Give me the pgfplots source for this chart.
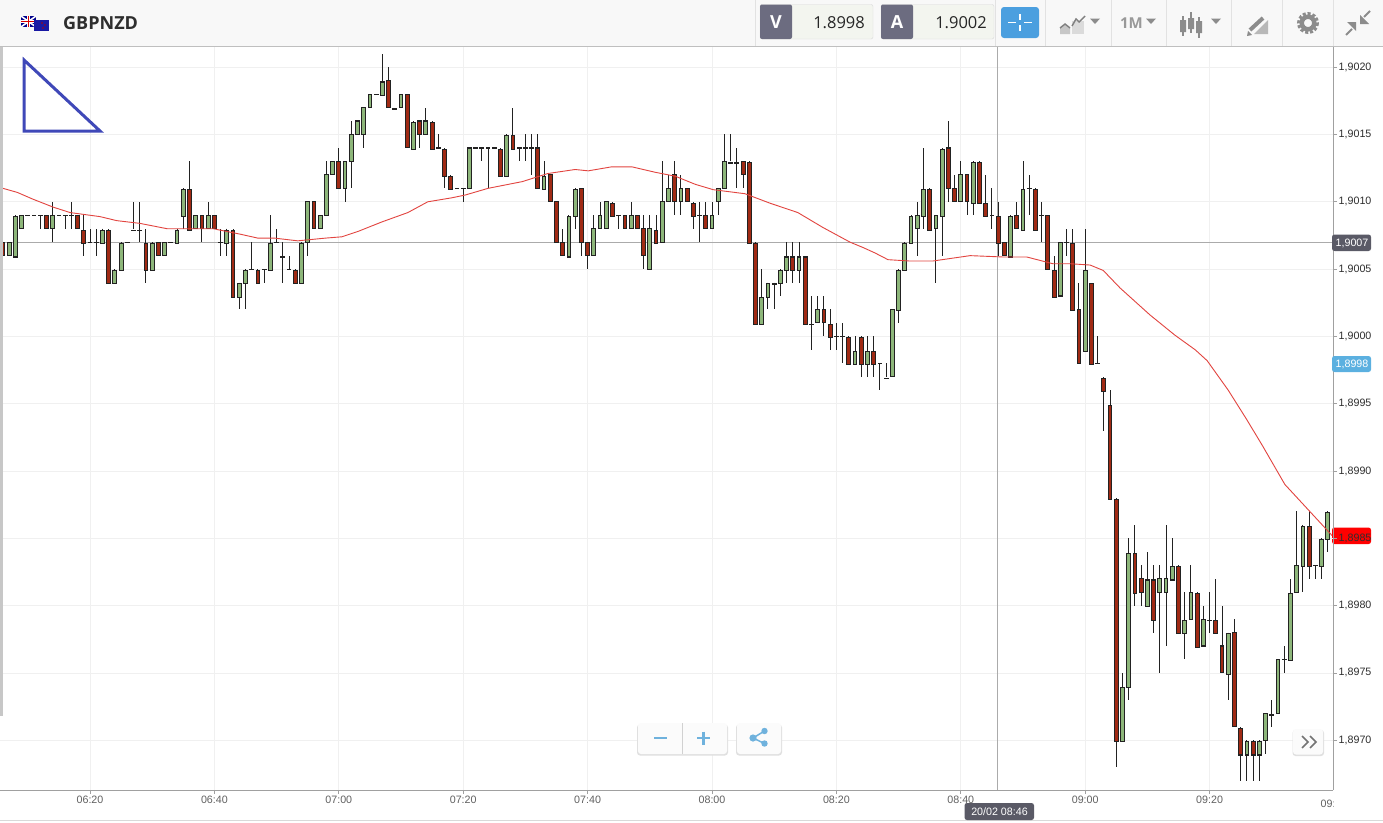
\documentclass[border=0pt]{standalone}
\usepackage{pgfplots}
\usepackage{pgfplotstable}
\usepackage{fontspec}
\pgfplotsset{compat=1.18}
\setmainfont{Liberation Sans}
\newfontfamily\opensans{Open Sans}
\definecolor{cgreen}{HTML}{8DB67A}
\definecolor{cred}{HTML}{A02A14}
\definecolor{cwick}{HTML}{222222}
\definecolor{cgrid}{HTML}{F0F0F0}
\definecolor{caxis}{HTML}{A0A0A0}
\definecolor{ccross}{HTML}{ABABAB}
\definecolor{cma}{HTML}{E2443F}
\definecolor{ctool}{HTML}{F8F8F8}
\definecolor{csep}{HTML}{E2E2E2}
\definecolor{cdark}{HTML}{6C6C80}
\definecolor{cbox}{HTML}{F3F5EF}
\definecolor{cblue}{HTML}{4B9FDF}
\definecolor{cicon}{HTML}{8C8C8C}
\definecolor{cbtn}{HTML}{6FB2DD}
\definecolor{ctag}{HTML}{5A5A66}
\definecolor{ctagb}{HTML}{5BB0E0}
\definecolor{ctri}{HTML}{3F48B8}
\pgfplotstableread{
t o h l c
-13 1.9006 1.9007 1.9006 1.9007
-12 1.9006 1.9009 1.9006 1.9009
-11 1.9008 1.9009 1.9008 1.9009
-6 1.9008 1.9010 1.9007 1.9009
2 1.9007 1.9008 1.9007 1.9008
4 1.9004 1.9005 1.9004 1.9005
5 1.9005 1.9007 1.9005 1.9007
10 1.9005 1.9007 1.9005 1.9007
12 1.9006 1.9007 1.9006 1.9007
14 1.9007 1.9008 1.9007 1.9008
15 1.9009 1.9011 1.9008 1.9011
17 1.9008 1.9009 1.9008 1.9009
19 1.9008 1.9010 1.9008 1.9009
22 1.9007 1.9008 1.9006 1.9008
24 1.9003 1.9004 1.9002 1.9004
25 1.9004 1.9005 1.9002 1.9005
29 1.9005 1.9009 1.9005 1.9007
34 1.9004 1.9007 1.9004 1.9007
35 1.9007 1.9010 1.9006 1.9010
37 1.9008 1.9009 1.9008 1.9009
38 1.9009 1.9013 1.9009 1.9012
39 1.9012 1.9013 1.9012 1.9013
41 1.9011 1.9013 1.9010 1.9013
42 1.9013 1.9016 1.9011 1.9015
43 1.9015 1.9016 1.9015 1.9016
44 1.9015 1.9017 1.9014 1.9017
45 1.9017 1.9018 1.9017 1.9018
47 1.9018 1.9021 1.9018 1.9019
50 1.9017 1.9018 1.9017 1.9018
52 1.9014 1.9016 1.9014 1.9016
54 1.9015 1.9017 1.9015 1.9016
61 1.9011 1.9014 1.9011 1.9014
67 1.9012 1.9015 1.9012 1.9015
73 1.9011 1.9013 1.9011 1.9012
77 1.9006 1.9009 1.9006 1.9009
78 1.9009 1.9011 1.9008 1.9011
81 1.9006 1.9009 1.9006 1.9008
82 1.9008 1.9010 1.9008 1.9009
83 1.9008 1.9010 1.9008 1.9010
87 1.9008 1.9010 1.9008 1.9009
90 1.9005 1.9009 1.9005 1.9008
92 1.9007 1.9013 1.9007 1.9010
93 1.9010 1.9012 1.9010 1.9011
95 1.9010 1.9012 1.9009 1.9011
100 1.9008 1.9010 1.9008 1.9009
101 1.9010 1.9011 1.9009 1.9011
102 1.9011 1.9015 1.9011 1.9013
108 1.9001 1.9005 1.9001 1.9003
109 1.9003 1.9004 1.9002 1.9004
111 1.9004 1.9005 1.9003 1.9005
112 1.9005 1.9007 1.9004 1.9006
114 1.9005 1.9007 1.9004 1.9006
117 1.9001 1.9003 1.9001 1.9002
123 1.8998 1.9000 1.8998 1.8999
125 1.8998 1.9000 1.8997 1.8999
129 1.8997 1.9002 1.8997 1.9002
130 1.9002 1.9005 1.9001 1.9005
131 1.9005 1.9007 1.9005 1.9007
132 1.9007 1.9009 1.9007 1.9009
133 1.9008 1.9010 1.9006 1.9009
134 1.9009 1.9014 1.9008 1.9011
136 1.9008 1.9009 1.9004 1.9009
137 1.9009 1.9014 1.9006 1.9014
140 1.9010 1.9013 1.9010 1.9012
142 1.9010 1.9013 1.9009 1.9013
148 1.9006 1.9009 1.9006 1.9009
150 1.9008 1.9013 1.9008 1.9011
156 1.9003 1.9007 1.9003 1.9007
160 1.8999 1.9008 1.8999 1.9005
166 1.8970 1.8975 1.8970 1.8974
167 1.8974 1.8985 1.8973 1.8984
170 1.8980 1.8984 1.8980 1.8982
172 1.8981 1.8983 1.8975 1.8982
173 1.8981 1.8986 1.8977 1.8982
174 1.8982 1.8985 1.8982 1.8983
176 1.8978 1.8981 1.8976 1.8979
177 1.8979 1.8983 1.8979 1.8981
179 1.8977 1.8980 1.8977 1.8979
183 1.8975 1.8978 1.8973 1.8978
186 1.8969 1.8970 1.8967 1.8970
188 1.8969 1.8970 1.8967 1.8970
189 1.8970 1.8972 1.8969 1.8972
191 1.8972 1.8976 1.8972 1.8976
193 1.8976 1.8982 1.8976 1.8981
194 1.8981 1.8987 1.8981 1.8983
195 1.8983 1.8986 1.8981 1.8986
198 1.8983 1.8985 1.8982 1.8985
199 1.8985 1.8987 1.8984 1.8987
}\upcandles
\pgfplotstableread{
t o h l c
-14 1.9007 1.9007 1.9006 1.9006
-7 1.9009 1.9009 1.9008 1.9008
-2 1.9009 1.9009 1.9008 1.9008
-1 1.9008 1.9009 1.9006 1.9007
3 1.9008 1.9008 1.9004 1.9004
9 1.9007 1.9008 1.9004 1.9005
11 1.9007 1.9007 1.9006 1.9006
16 1.9011 1.9013 1.9008 1.9008
18 1.9009 1.9009 1.9007 1.9008
20 1.9009 1.9009 1.9008 1.9008
23 1.9008 1.9008 1.9003 1.9003
27 1.9005 1.9005 1.9004 1.9004
33 1.9005 1.9005 1.9004 1.9004
36 1.9010 1.9010 1.9008 1.9008
40 1.9013 1.9014 1.9011 1.9011
48 1.9019 1.9020 1.9017 1.9017
51 1.9018 1.9018 1.9014 1.9014
53 1.9016 1.9016 1.9014 1.9015
55 1.9016 1.9016 1.9014 1.9014
57 1.9014 1.9014 1.9011 1.9012
58 1.9012 1.9012 1.9011 1.9011
66 1.9014 1.9014 1.9012 1.9012
68 1.9015 1.9017 1.9014 1.9014
72 1.9014 1.9015 1.9011 1.9011
74 1.9012 1.9012 1.9010 1.9010
75 1.9010 1.9010 1.9007 1.9007
76 1.9007 1.9008 1.9006 1.9006
79 1.9011 1.9011 1.9006 1.9007
80 1.9007 1.9007 1.9005 1.9006
84 1.9010 1.9010 1.9009 1.9009
86 1.9009 1.9009 1.9008 1.9008
88 1.9009 1.9009 1.9008 1.9008
89 1.9008 1.9009 1.9005 1.9006
91 1.9008 1.9009 1.9007 1.9007
94 1.9012 1.9013 1.9009 1.9010
96 1.9011 1.9011 1.9010 1.9010
97 1.9010 1.9010 1.9008 1.9009
99 1.9009 1.9010 1.9008 1.9008
105 1.9013 1.9013 1.9011 1.9012
106 1.9013 1.9013 1.9007 1.9007
107 1.9007 1.9007 1.9001 1.9001
113 1.9006 1.9007 1.9004 1.9005
115 1.9006 1.9006 1.9001 1.9001
118 1.9002 1.9003 1.9000 1.9001
119 1.9001 1.9002 1.8999 1.9000
122 1.9000 1.9000 1.8998 1.8998
124 1.9000 1.9000 1.8997 1.8998
126 1.8999 1.9000 1.8997 1.8998
135 1.9011 1.9011 1.9008 1.9008
138 1.9014 1.9016 1.9010 1.9011
139 1.9011 1.9012 1.9010 1.9010
141 1.9012 1.9012 1.9009 1.9010
143 1.9013 1.9013 1.9010 1.9010
144 1.9010 1.9012 1.9009 1.9009
146 1.9009 1.9010 1.9006 1.9007
147 1.9007 1.9007 1.9006 1.9006
149 1.9009 1.9010 1.9008 1.9008
152 1.9011 1.9011 1.9008 1.9008
154 1.9009 1.9009 1.9005 1.9005
155 1.9005 1.9006 1.9003 1.9003
158 1.9007 1.9008 1.9002 1.9002
159 1.9002 1.9004 1.8998 1.8998
161 1.9004 1.9004 1.8998 1.8998
163 1.8997 1.8997 1.8993 1.8996
164 1.8995 1.8996 1.8988 1.8988
165 1.8988 1.8988 1.8968 1.8970
168 1.8984 1.8986 1.8980 1.8981
169 1.8982 1.8983 1.8980 1.8981
171 1.8982 1.8983 1.8978 1.8979
175 1.8983 1.8983 1.8978 1.8978
178 1.8981 1.8981 1.8977 1.8977
181 1.8979 1.8982 1.8978 1.8978
182 1.8977 1.8980 1.8975 1.8975
184 1.8978 1.8979 1.8971 1.8971
185 1.8971 1.8971 1.8967 1.8969
187 1.8970 1.8970 1.8967 1.8969
196 1.8986 1.8987 1.8982 1.8983
}\downcandles
\pgfplotstableread{
t o h l c
-10 1.9009 1.9009 1.9009 1.9009
-9 1.9009 1.9009 1.9009 1.9009
-8 1.9009 1.9009 1.9008 1.9009
-5 1.9009 1.9009 1.9009 1.9009
-4 1.9009 1.9009 1.9008 1.9009
-3 1.9009 1.9010 1.9008 1.9009
0 1.9007 1.9008 1.9007 1.9007
1 1.9007 1.9008 1.9006 1.9007
6 1.9007 1.9007 1.9007 1.9007
7 1.9008 1.9010 1.9008 1.9008
8 1.9008 1.9010 1.9007 1.9008
13 1.9007 1.9007 1.9007 1.9007
21 1.9007 1.9008 1.9006 1.9007
26 1.9005 1.9007 1.9005 1.9005
28 1.9005 1.9005 1.9004 1.9005
30 1.9007 1.9008 1.9007 1.9007
31 1.9006 1.9007 1.9004 1.9006
32 1.9005 1.9006 1.9005 1.9005
46 1.9018 1.9018 1.9018 1.9018
49 1.9017 1.9017 1.9017 1.9017
56 1.9014 1.9015 1.9014 1.9014
59 1.9011 1.9011 1.9011 1.9011
60 1.9011 1.9011 1.9010 1.9011
62 1.9014 1.9014 1.9014 1.9014
63 1.9014 1.9014 1.9013 1.9014
64 1.9014 1.9014 1.9011 1.9014
65 1.9014 1.9014 1.9014 1.9014
69 1.9014 1.9014 1.9013 1.9014
70 1.9014 1.9015 1.9013 1.9014
71 1.9014 1.9015 1.9012 1.9014
85 1.9009 1.9009 1.9008 1.9009
98 1.9009 1.9010 1.9007 1.9009
103 1.9013 1.9015 1.9013 1.9013
104 1.9013 1.9014 1.9011 1.9013
110 1.9004 1.9004 1.9002 1.9004
116 1.9001 1.9003 1.8999 1.9001
120 1.9000 1.9001 1.8999 1.9000
121 1.9000 1.9001 1.8998 1.9000
127 1.8998 1.8998 1.8996 1.8998
128 1.8997 1.8998 1.8997 1.8997
145 1.9009 1.9011 1.9008 1.9009
151 1.9011 1.9012 1.9009 1.9011
153 1.9009 1.9010 1.9007 1.9009
157 1.9007 1.9008 1.9006 1.9007
162 1.8998 1.9000 1.8998 1.8998
180 1.8979 1.8981 1.8978 1.8979
190 1.8972 1.8973 1.8971 1.8972
192 1.8976 1.8977 1.8975 1.8976
197 1.8983 1.8983 1.8982 1.8983
}\dojis
\pgfplotstableread{
t ma
-14 1.90110
-11.7 1.90107
-9.2 1.90102
-5.9 1.90096
-3.2 1.90092
1.6 1.90089
4.3 1.90086
8 1.90084
12.4 1.90080
15.6 1.90080
19.8 1.90080
24.1 1.90076
27 1.90073
29.7 1.90073
33.4 1.90071
37.8 1.90073
40.5 1.90074
43.1 1.90078
46.9 1.90085
51.1 1.90092
54.3 1.90100
58.2 1.90103
60.3 1.90105
64 1.90110
69.5 1.90115
73.6 1.90121
78 1.90124
80.1 1.90123
83.9 1.90126
87.1 1.90126
90.8 1.90122
94.1 1.90119
97.3 1.90113
100.2 1.90109
105.3 1.90106
109.3 1.90099
113.8 1.90092
117.8 1.90081
122.2 1.90070
124.3 1.90066
126.2 1.90062
128.3 1.90057
131.8 1.90056
135.5 1.90056
141.5 1.90060
146.8 1.90059
150.6 1.90059
154.8 1.90054
157.6 1.90054
160.8 1.90053
162.9 1.90049
165.6 1.90036
170.4 1.90016
174.4 1.90001
177.7 1.89990
179.6 1.89982
183 1.89960
186 1.89938
188.6 1.89918
192.1 1.89890
195.7 1.89872
199.7 1.89852
}\matable
\begin{document}
\begin{tikzpicture}
\path[use as bounding box,fill=white] (0pt,0pt) rectangle (1383pt,-822pt);
\fill[red,rounded corners=2.5pt] (1332pt,-527.5pt) rectangle (1371pt,-544pt);
\begin{axis}[
  at={(0pt,-790pt)},anchor=south west,
  scale only axis,width=1333pt,height=743pt,
  xmin=-14.47,xmax=199.84,ymin=1.89663,ymax=1.90215,
  axis x line=bottom,axis y line=right,
  axis line style={-,color=caxis,line width=1pt},
  clip=true,
  xtick={0,20,...,180},
  xticklabels={06:20,06:40,07:00,07:20,07:40,08:00,08:20,08:40,09:00,09:20},
  ytick={1.8970,1.8975,1.8980,1.8985,1.8990,1.8995,1.9000,1.9005,1.9010,1.9015,1.9020},
  scaled y ticks=false,
  grid=major,
  major grid style={cgrid,line width=0.8pt},
  tick align=outside,
  major tick length=4pt,
  tick style={color=caxis,line width=0.8pt},
  xticklabel style={font=\fontsize{10.7}{12}\selectfont,text=black!62,inner sep=2pt},
  yticklabel style={font=\fontsize{10.7}{12}\selectfont,text=black!82,inner sep=1.5pt,
    /pgf/number format/.cd,fixed,fixed zerofill,precision=4,use comma,1000 sep={},assume math mode=true},
]
% crosshair
\addplot[ccross,line width=1pt,forget plot] coordinates {(145.85,1.89663)(145.85,1.90215)};
\addplot[ccross,line width=1pt,forget plot] coordinates {(-14.47,1.9007)(199.84,1.9007)};
% wicks
\pgfplotsset{wick/.style={draw=none,mark=none,forget plot,
  error bars/.cd,y dir=both,y explicit,error mark=none,
  error bar style={line width=1pt,color=cwick,line cap=butt}}}
\addplot[wick] table[x=t,y=c,y error plus expr=\thisrow{h}-\thisrow{c},y error minus expr=\thisrow{c}-\thisrow{l}] {\upcandles};
\addplot[wick] table[x=t,y=c,y error plus expr=\thisrow{h}-\thisrow{c},y error minus expr=\thisrow{c}-\thisrow{l}] {\downcandles};
\addplot[wick] table[x=t,y=c,y error plus expr=\thisrow{h}-\thisrow{c},y error minus expr=\thisrow{c}-\thisrow{l}] {\dojis};
% body outlines
\pgfplotsset{bodyout/.style={draw=none,mark=none,forget plot,
  error bars/.cd,y dir=both,y explicit,error mark=none,
  error bar style={line width=4.8pt,color=cwick,line cap=butt}}}
\addplot[bodyout] table[x=t,y expr=(\thisrow{o}+\thisrow{c})/2,y error expr=abs(\thisrow{c}-\thisrow{o})/2+0.000004] {\upcandles};
\addplot[bodyout] table[x=t,y expr=(\thisrow{o}+\thisrow{c})/2,y error expr=abs(\thisrow{c}-\thisrow{o})/2+0.000004] {\downcandles};
\addplot[bodyout] table[x=t,y expr=(\thisrow{o}+\thisrow{c})/2,y error expr=abs(\thisrow{c}-\thisrow{o})/2+0.000004] {\dojis};
% body fills
\addplot[draw=none,mark=none,forget plot,error bars/.cd,y dir=both,y explicit,error mark=none,
  error bar style={line width=2.8pt,color=cgreen,line cap=butt}]
  table[x=t,y expr=(\thisrow{o}+\thisrow{c})/2,y error expr=abs(\thisrow{c}-\thisrow{o})/2-0.000004] {\upcandles};
\addplot[draw=none,mark=none,forget plot,error bars/.cd,y dir=both,y explicit,error mark=none,
  error bar style={line width=2.8pt,color=cred,line cap=butt}]
  table[x=t,y expr=(\thisrow{o}+\thisrow{c})/2,y error expr=abs(\thisrow{c}-\thisrow{o})/2-0.000004] {\downcandles};
% moving average
\addplot[cma,line width=0.9pt,mark=none,forget plot] table[x=t,y=ma] {\matable};
\end{axis}
\begin{scope}[x=1pt,y=-1pt]
% left strip
\fill[black!22] (0,16) rectangle (3,716);
% toolbar
\fill[ctool] (0,0) rectangle (1383,46);
\draw[black!25,line width=1.2pt] (0,46.5) -- (1383,46.5);
\foreach \s in {755,995,1045,1111,1166,1231,1282,1333} \draw[csep,line width=0.8pt] (\s,0) -- (\s,46);
% flags
\fill[blue!55!black] (21,16) rectangle (36,27);
\draw[white,line width=1.6pt] (21,16) -- (36,27) (21,27) -- (36,16);
\draw[white,line width=2.6pt] (28.5,16) -- (28.5,27) (21,21.5) -- (36,21.5);
\draw[red!85!black,line width=1.2pt] (28.5,16) -- (28.5,27) (21,21.5) -- (36,21.5);
\fill[blue!60!black!90] (34,20) rectangle (49,31);
\fill[red!70!black] (42,23) circle (0.8) (45,25) circle (0.8) (43,28) circle (0.8);
\node[anchor=west,inner sep=0,text=black!82] at (63,23.5) {\opensans\fontsize{18}{20}\selectfont\bfseries GBPNZD};
% V and A boxes
\fill[cbox,draw=black!15,rounded corners=2pt] (760,4.5) rectangle (873,39);
\fill[cdark,rounded corners=2pt] (760,4.5) rectangle (792,39);
\node[text=white,inner sep=0] at (776,22.5) {\opensans\fontsize{18}{20}\selectfont\bfseries V};
\node[anchor=east,inner sep=0,text=black!85] at (865,22.5) {\opensans\fontsize{16.5}{20}\selectfont 1.8998};
\fill[cbox,draw=black!15,rounded corners=2pt] (881,4.5) rectangle (994,39);
\fill[cdark,rounded corners=2pt] (881,4.5) rectangle (913,39);
\node[text=white,inner sep=0] at (897,22.5) {\opensans\fontsize{18}{20}\selectfont\bfseries A};
\node[anchor=east,inner sep=0,text=black!85] at (987,22.5) {\opensans\fontsize{16.5}{20}\selectfont 1.9002};
% crosshair button
\fill[cblue,rounded corners=3pt] (1001,7) rectangle (1039,38);
\draw[white,line width=1.3pt] (1020,14) -- (1020,20) (1020,25) -- (1020,31) (1008,22.5) -- (1016,22.5) (1024,22.5) -- (1032,22.5);
% chart type icon
\fill[black!14] (1072,21) rectangle (1084,34);
\fill[black!22] (1060,34) -- (1060,28) -- (1065,24) -- (1070,28) -- (1070,34) -- cycle;
\draw[black!50,line width=1.4pt] (1060,28) -- (1065,24) -- (1070,28) (1072,26) -- (1076,19) -- (1079,22) -- (1085,16);
\fill[black!45] (1090,18.5) -- (1100,18.5) -- (1095,24) -- cycle;
\node[inner sep=0,text=black!40] at (1131.5,23.5) {\opensans\fontsize{15}{18}\selectfont\bfseries 1M};
\fill[black!45] (1146,18.5) -- (1156,18.5) -- (1151,24) -- cycle;
% candle icon
\draw[cicon,line width=1.2pt] (1183,16) -- (1183,36) (1191,12) -- (1191,33) (1199,17) -- (1199,38);
\fill[cicon] (1180,20) rectangle (1186,32) (1188,18) rectangle (1194,29) (1196,21) rectangle (1202,33);
\fill[black!45] (1211,18.5) -- (1221,18.5) -- (1216,24) -- cycle;
% pencil icon
\fill[black!28] (1254,34) -- (1268,20) -- (1268,34) -- cycle;
\draw[cicon,line width=4pt] (1250,30) -- (1263,18);
\fill[cicon] (1247,36) -- (1248,31) -- (1252,35) -- cycle;
% gear
\draw[cicon,line width=3pt,dash pattern=on 3pt off 1.9pt] (1308,23) circle (9.5);
\draw[cicon,line width=4.5pt] (1308,23) circle (6.3);
% compress
\draw[cicon,line width=2pt] (1352,29) -- (1346,35) (1364,17) -- (1370,11);
\fill[cicon] (1347,22) -- (1356,22) -- (1356,31) -- cycle (1360,15) -- (1360,24) -- (1369,24) -- cycle;
% triangle drawing
\draw[ctri,line width=3pt,line join=miter] (24,60) -- (24,131) -- (100,131) -- cycle;
% zoom buttons
\fill[black!12,rounded corners=3pt] (637,724.5) rectangle (728,755.5);
\fill[ctool!60!white,rounded corners=3pt] (638,723) rectangle (727,754);
\draw[black!18,line width=0.8pt] (682,723) -- (682,754);
\draw[cbtn,line width=2.8pt] (654,738) -- (667,738) (697,738) -- (710,738) (703.5,731.5) -- (703.5,744.5);
\fill[black!12,rounded corners=3pt] (736,724.5) rectangle (782,755.5);
\fill[ctool!60!white,rounded corners=3pt] (737,723) rectangle (781,754);
\draw[cbtn,line width=1.5pt] (764.5,731) -- (753,738) -- (764.5,743.5);
\fill[cbtn] (764.5,731) circle (3.2) (753,738) circle (3.6) (764.5,743.5) circle (3.2);
% >> button
\fill[black!12,rounded corners=3pt] (1292.5,730) rectangle (1324,756);
\fill[ctool!60!white,rounded corners=3pt] (1293,729) rectangle (1323,754.5);
\draw[black!55,line width=1.7pt] (1302,736) -- (1308,742) -- (1302,748) (1310,736) -- (1316,742) -- (1310,748);
% lower rule
\draw[black!15,line width=1pt] (0,820.5) -- (1383,820.5);
% clipped 09:40 label
\begin{scope}
\clip (1310,795) rectangle (1333,815);
\node[inner sep=0,text=black!62] at (1334,804) {\fontsize{10.7}{12}\selectfont 09:40};
\end{scope}
% tooltip
\fill[ctag,rounded corners=2.5pt] (964.5,803) rectangle (1034,820);
\node[inner sep=0,text=white] at (999.5,811.5) {\fontsize{10.7}{12}\selectfont 20/02 08:46};
% price tags
\fill[ctag,rounded corners=2.5pt] (1332,234.5) rectangle (1371,251);
\node[inner sep=0,text=white] at (1352,243) {\fontsize{10.7}{12}\selectfont 1,9007};
\fill[ctagb,rounded corners=2.5pt] (1332,356) rectangle (1371,372);
\node[inner sep=0,text=white] at (1352,364) {\fontsize{10.7}{12}\selectfont 1,8998};
\end{scope}
\end{tikzpicture}
\end{document}
